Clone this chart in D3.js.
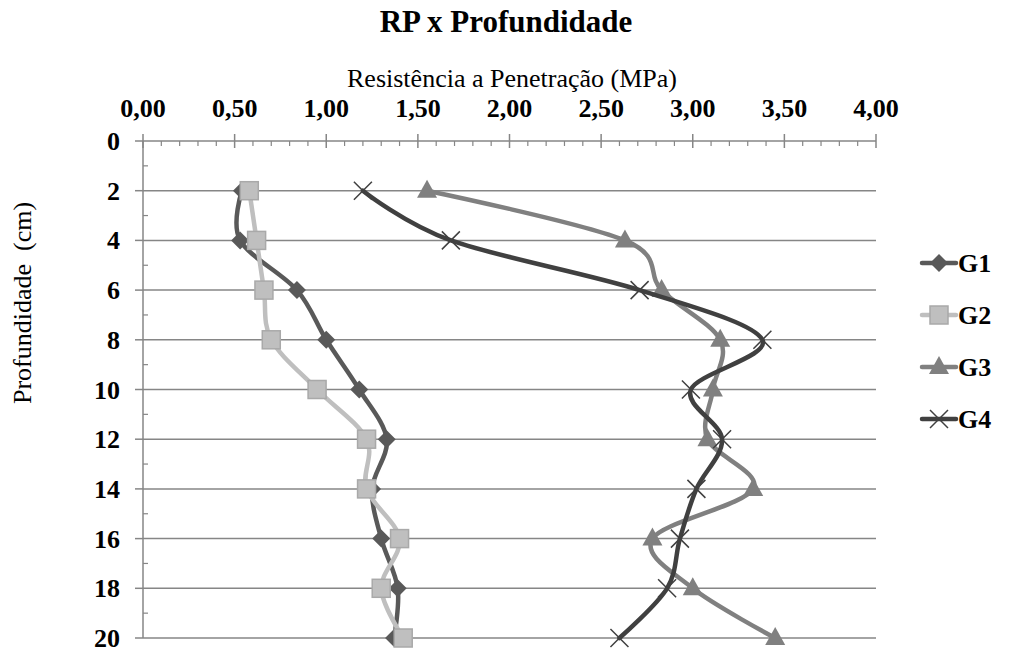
<!DOCTYPE html>
<html>
<head>
<meta charset="utf-8">
<script src="https://cdn.jsdelivr.net/npm/d3@7"></script>
<style>
  body { margin: 0; background: #fff; }
  text { font-family: "Liberation Serif", "Times New Roman", serif; white-space: pre; }
</style>
</head>
<body>
<svg id="chart" width="1016" height="653"></svg>
<script>
// depth (cm) and resistance (MPa) per group
const depth = [2, 4, 6, 8, 10, 12, 14, 16, 18, 20];
const g1 = [0.54, 0.53, 0.84, 1.00, 1.18, 1.33, 1.25, 1.30, 1.39, 1.37];
const g2 = [0.58, 0.62, 0.66, 0.70, 0.95, 1.22, 1.22, 1.40, 1.30, 1.42];
const g3 = [1.55, 2.63, 2.83, 3.15, 3.11, 3.08, 3.33, 2.78, 3.00, 3.45];
const g4 = [1.20, 1.68, 2.71, 3.38, 2.99, 3.16, 3.02, 2.93, 2.86, 2.60];
const seriesNames = ["G1", "G2", "G3", "G4"];
const xTickValues = [0, 0.5, 1, 1.5, 2, 2.5, 3, 3.5, 4];
const yTickValues = [0, 2, 4, 6, 8, 10, 12, 14, 16, 18, 20];

const svg = d3.select("#chart");
const plotLeft = 143, plotRight = 876, plotTop = 141, plotBottom = 638;
const axisColor = "#868686";

const x = d3.scaleLinear().domain([0, 4]).range([plotLeft, plotRight]);
const y = d3.scaleLinear().domain([0, 20]).range([plotTop, plotBottom]);

const fmt = v => d3.format(".2f")(v).replace(".", ",");

// titles
svg.append("text")
  .attr("x", 506).attr("y", 32)
  .attr("text-anchor", "middle")
  .style("font-size", "31px").style("font-weight", "bold")
  .text("RP x Profundidade");

svg.append("text")
  .attr("x", 512).attr("y", 87)
  .attr("text-anchor", "middle")
  .style("font-size", "26px")
  .text("Resistência a Penetração (MPa)");

svg.append("text")
  .attr("transform", "translate(31,303) rotate(-90)")
  .attr("text-anchor", "middle")
  .style("font-size", "26px")
  .text("Profundidade  (cm)");

// horizontal gridlines
svg.append("g").selectAll("line")
  .data(yTickValues.filter(d => d > 0))
  .join("line")
  .attr("x1", plotLeft).attr("x2", plotRight)
  .attr("y1", d => y(d)).attr("y2", d => y(d))
  .attr("stroke", axisColor).attr("stroke-width", 1.5);

// top x axis
const xAxis = svg.append("g").attr("transform", `translate(0,${plotTop})`);
xAxis.append("line").attr("x1", plotLeft).attr("x2", plotRight)
  .attr("stroke", axisColor).attr("stroke-width", 1.5);
xAxis.selectAll("line.minor")
  .data(d3.range(0, 40).map(i => i / 10).filter((d, i) => i % 5 !== 0))
  .join("line").attr("class", "minor")
  .attr("x1", d => x(d)).attr("x2", d => x(d))
  .attr("y1", 0).attr("y2", 5)
  .attr("stroke", axisColor).attr("stroke-width", 1.2);
xAxis.selectAll("line.major")
  .data(xTickValues)
  .join("line").attr("class", "major")
  .attr("x1", d => x(d)).attr("x2", d => x(d))
  .attr("y1", -7).attr("y2", 7)
  .attr("stroke", axisColor).attr("stroke-width", 1.5);
xAxis.selectAll("text")
  .data(xTickValues)
  .join("text")
  .attr("x", d => x(d)).attr("y", -24)
  .attr("text-anchor", "middle")
  .style("font-size", "26px").style("font-weight", "bold")
  .text(fmt);

// left y axis
const yAxis = svg.append("g").attr("transform", `translate(${plotLeft},0)`);
yAxis.append("line").attr("y1", plotTop).attr("y2", plotBottom)
  .attr("stroke", axisColor).attr("stroke-width", 1.5);
yAxis.selectAll("line.minor")
  .data(d3.range(1, 20, 2))
  .join("line").attr("class", "minor")
  .attr("x1", 0).attr("x2", 5)
  .attr("y1", d => y(d)).attr("y2", d => y(d))
  .attr("stroke", axisColor).attr("stroke-width", 1.2);
yAxis.selectAll("line.major")
  .data(yTickValues)
  .join("line").attr("class", "major")
  .attr("x1", -8).attr("x2", 0)
  .attr("y1", d => y(d)).attr("y2", d => y(d))
  .attr("stroke", axisColor).attr("stroke-width", 1.5);
yAxis.selectAll("text")
  .data(yTickValues)
  .join("text")
  .attr("x", -23).attr("y", d => y(d) + 9)
  .attr("text-anchor", "end")
  .style("font-size", "26px").style("font-weight", "bold")
  .text(d => d);

// series styles
const styles = [
  { color: "#595959", marker: "diamond", fill: "#595959", stroke: "#595959" },
  { color: "#bfbfbf", marker: "square", fill: "#bfbfbf", stroke: "#a9a9a9" },
  { color: "#808080", marker: "triangle", fill: "#808080", stroke: "#808080" },
  { color: "#404040", marker: "x", fill: "none", stroke: "#404040" }
];

function drawMarker(g, type, cx, cy, st) {
  if (type === "diamond") {
    g.append("path")
      .attr("d", `M${cx},${cy - 9}L${cx + 9},${cy}L${cx},${cy + 9}L${cx - 9},${cy}Z`)
      .attr("fill", st.fill);
  } else if (type === "square") {
    g.append("rect")
      .attr("x", cx - 9).attr("y", cy - 9).attr("width", 18).attr("height", 18)
      .attr("fill", st.fill).attr("stroke", st.stroke).attr("stroke-width", 1.5);
  } else if (type === "triangle") {
    g.append("path")
      .attr("d", `M${cx},${cy - 11}L${cx + 10},${cy + 7}L${cx - 10},${cy + 7}Z`)
      .attr("fill", st.fill);
  } else {
    g.append("path")
      .attr("d", `M${cx - 9},${cy - 9}L${cx + 9},${cy + 9}M${cx - 9},${cy + 9}L${cx + 9},${cy - 9}`)
      .attr("stroke", st.stroke).attr("stroke-width", 1.5).attr("fill", "none");
  }
}

const line = d3.line()
  .x(d => x(d[0]))
  .y(d => y(d[1]))
  .curve(d3.curveCatmullRom.alpha(0));

[g1, g2, g3, g4].forEach((vals, i) => {
  const st = styles[i];
  const pts = vals.map((v, j) => [v, depth[j]]);
  const g = svg.append("g");
  g.append("path")
    .attr("d", line(pts))
    .attr("fill", "none")
    .attr("stroke", st.color)
    .attr("stroke-width", 4.5)
    .attr("stroke-linecap", "round")
    .attr("stroke-linejoin", "round");
  pts.forEach(p => drawMarker(g, st.marker, x(p[0]), y(p[1]), st));
});

// legend
const legendY = [263, 315, 367, 419];
seriesNames.forEach((name, i) => {
  const st = styles[i];
  const g = svg.append("g");
  g.append("line")
    .attr("x1", 922).attr("x2", 956)
    .attr("y1", legendY[i]).attr("y2", legendY[i])
    .attr("stroke", st.color).attr("stroke-width", 4.5)
    .attr("stroke-linecap", "round");
  drawMarker(g, st.marker, 939, legendY[i], st);
  g.append("text")
    .attr("x", 958).attr("y", legendY[i] + 9)
    .style("font-size", "26px").style("font-weight", "bold")
    .text(name);
});
</script>
</body>
</html>
